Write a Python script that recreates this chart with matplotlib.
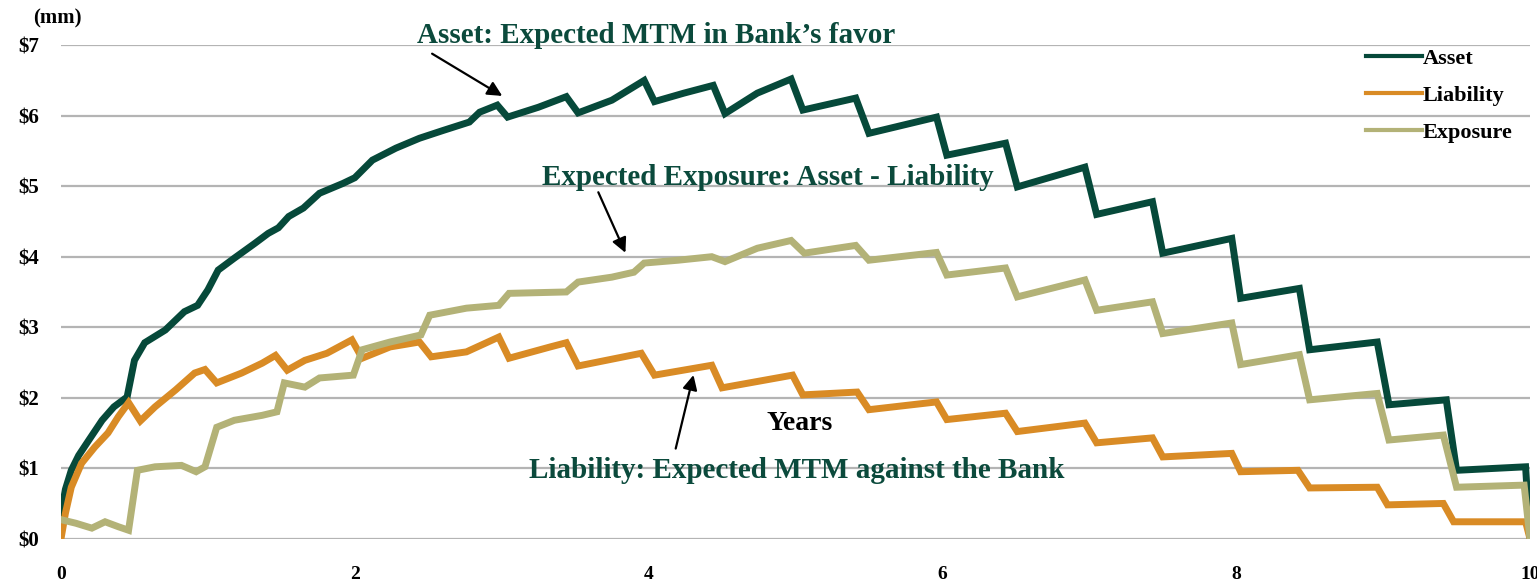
import matplotlib
matplotlib.use("Agg")
import matplotlib.pyplot as plt

plt.rcParams['font.family'] = ['Liberation Serif', 'DejaVu Serif']

# values ($mm vs years)
asset_t = [0.0, 0.03, 0.07, 0.12, 0.19, 0.28, 0.36, 0.45, 0.50, 0.57, 0.71, 0.84, 0.93,
           1.00, 1.07, 1.18, 1.32, 1.41, 1.48, 1.55, 1.65, 1.76, 1.92, 2.00, 2.12, 2.28,
           2.44, 2.60, 2.78, 2.85, 2.97, 3.04, 3.25, 3.44, 3.52, 3.75, 3.97, 4.04, 4.24,
           4.44, 4.52, 4.74, 4.97, 5.05, 5.41, 5.50, 5.96, 6.03, 6.43, 6.51, 6.97, 7.05,
           7.43, 7.50, 7.97, 8.03, 8.43, 8.50, 8.96, 9.04, 9.43, 9.50, 9.97, 10.0]
asset_v = [0.35, 0.70, 0.97, 1.18, 1.40, 1.68, 1.87, 2.01, 2.53, 2.78, 2.96, 3.22, 3.31,
           3.53, 3.81, 3.98, 4.19, 4.33, 4.41, 4.57, 4.69, 4.90, 5.04, 5.12, 5.37, 5.54,
           5.68, 5.79, 5.91, 6.05, 6.15, 5.98, 6.12, 6.27, 6.04, 6.22, 6.50, 6.20, 6.32,
           6.43, 6.03, 6.32, 6.52, 6.08, 6.25, 5.75, 5.98, 5.44, 5.61, 4.99, 5.27, 4.60,
           4.78, 4.05, 4.26, 3.41, 3.55, 2.68, 2.79, 1.90, 1.97, 0.97, 1.02, 0.0]

liab_t = [0.0, 0.03, 0.07, 0.14, 0.23, 0.32, 0.39, 0.46, 0.54, 0.64, 0.78, 0.91, 0.98,
          1.06, 1.23, 1.37, 1.46, 1.54, 1.66, 1.81, 1.98, 2.05, 2.24, 2.44, 2.52, 2.76,
          2.98, 3.05, 3.33, 3.44, 3.52, 3.95, 4.04, 4.43, 4.50, 4.98, 5.05, 5.42, 5.50,
          5.96, 6.03, 6.43, 6.51, 6.97, 7.05, 7.43, 7.50, 7.97, 8.03, 8.42, 8.50, 8.96,
          9.03, 9.41, 9.48, 9.97, 10.0]
liab_v = [0.0, 0.36, 0.73, 1.07, 1.30, 1.50, 1.73, 1.93, 1.67, 1.87, 2.11, 2.35, 2.40,
          2.21, 2.35, 2.49, 2.60, 2.39, 2.53, 2.63, 2.82, 2.56, 2.72, 2.79, 2.58, 2.65,
          2.86, 2.56, 2.72, 2.78, 2.45, 2.63, 2.32, 2.46, 2.14, 2.32, 2.04, 2.08, 1.83,
          1.94, 1.69, 1.78, 1.52, 1.64, 1.36, 1.43, 1.16, 1.21, 0.95, 0.97, 0.72, 0.73,
          0.48, 0.50, 0.24, 0.24, 0.0]

expo_t = [0.0, 0.10, 0.21, 0.30, 0.39, 0.46, 0.52, 0.64, 0.82, 0.92, 0.98, 1.06, 1.18,
          1.37, 1.47, 1.52, 1.66, 1.76, 1.99, 2.05, 2.24, 2.45, 2.51, 2.76, 2.98, 3.05,
          3.44, 3.52, 3.75, 3.90, 3.97, 4.20, 4.43, 4.52, 4.74, 4.97, 5.06, 5.41, 5.50,
          5.96, 6.03, 6.43, 6.51, 6.97, 7.05, 7.43, 7.50, 7.97, 8.03, 8.43, 8.50, 8.96,
          9.04, 9.41, 9.50, 9.96, 10.0]
expo_v = [0.27, 0.22, 0.15, 0.24, 0.17, 0.12, 0.97, 1.02, 1.04, 0.95, 1.02, 1.58, 1.68,
          1.75, 1.80, 2.21, 2.15, 2.28, 2.32, 2.68, 2.79, 2.89, 3.17, 3.27, 3.31, 3.48,
          3.50, 3.64, 3.71, 3.78, 3.91, 3.95, 4.00, 3.93, 4.12, 4.23, 4.05, 4.16, 3.95,
          4.06, 3.74, 3.84, 3.43, 3.67, 3.24, 3.36, 2.91, 3.06, 2.47, 2.61, 1.97, 2.06,
          1.40, 1.47, 0.73, 0.76, 0.0]

yticks = [0, 1, 2, 3, 4, 5, 6, 7]
xticks = [0, 2, 4, 6, 8, 10]

green = '#06493a'
orange = '#d98b25'
khaki = '#b3b277'
txt_green = '#0b4a3c'

fig = plt.figure(figsize=(15.37, 5.87), dpi=100)
ax = fig.add_axes([61/1537, 48.3/587, 1469/1537, 493.5/587])

ax.plot(asset_t, asset_v, color=green, lw=5, label='Asset', solid_joinstyle='miter')
ax.plot(liab_t, liab_v, color=orange, lw=5, label='Liability', solid_joinstyle='miter')
ax.plot(expo_t, expo_v, color=khaki, lw=5, label='Exposure', solid_joinstyle='miter')

ax.set_xlim(0, 10)
ax.set_ylim(0, 7)
ax.set_yticks(yticks)
ax.set_yticklabels(['$' + str(v) for v in yticks])
ax.set_xticks(xticks)
ax.grid(axis='y', color='#b4b4b4', lw=1.6)
ax.set_axisbelow(True)
for s in ax.spines.values():
    s.set_visible(False)
ax.tick_params(axis='both', length=0, labelsize=15)
ax.tick_params(axis='y', pad=16)
ax.tick_params(axis='x', pad=20, labelsize=14)
for lab in ax.get_xticklabels() + ax.get_yticklabels():
    lab.set_fontweight('bold')

fig.text(33/1537, 1 - 18/587, '(mm)', fontsize=15, fontweight='bold', va='center', ha='left')

leg = ax.legend(loc='upper left', bbox_to_anchor=(1346/1537, 1 - 28/587),
                bbox_transform=fig.transFigure, frameon=False, fontsize=16,
                handlelength=2.5, handletextpad=0.05, labelspacing=0.75)
for line in leg.get_lines():
    line.set_linewidth(3)
for t in leg.get_texts():
    t.set_fontweight('bold')

tkw = dict(fontsize=21, fontweight='bold', color=txt_green, ha='center', va='center')
ax.text(4.05, 7.14, 'Asset: Expected MTM in Bank\u2019s favor', clip_on=False, **tkw)
ax.text(4.81, 5.13, 'Expected Exposure: Asset - Liability', **tkw)
ax.text(5.01, 0.97, 'Liability: Expected MTM against the Bank', **tkw)
ax.text(5.03, 1.63, 'Years', fontsize=20, fontweight='bold', color='black',
        ha='center', va='center')

akw = dict(arrowstyle='-|>', color='black', lw=1.6, mutation_scale=22)
ax.annotate('', xy=(3.02, 6.26), xytext=(2.51, 6.90), arrowprops=akw)
ax.annotate('', xy=(3.85, 4.02), xytext=(3.65, 4.95), arrowprops=akw)
ax.annotate('', xy=(4.31, 2.36), xytext=(4.18, 1.24), arrowprops=akw)

fig.savefig('out.png', dpi=100)
